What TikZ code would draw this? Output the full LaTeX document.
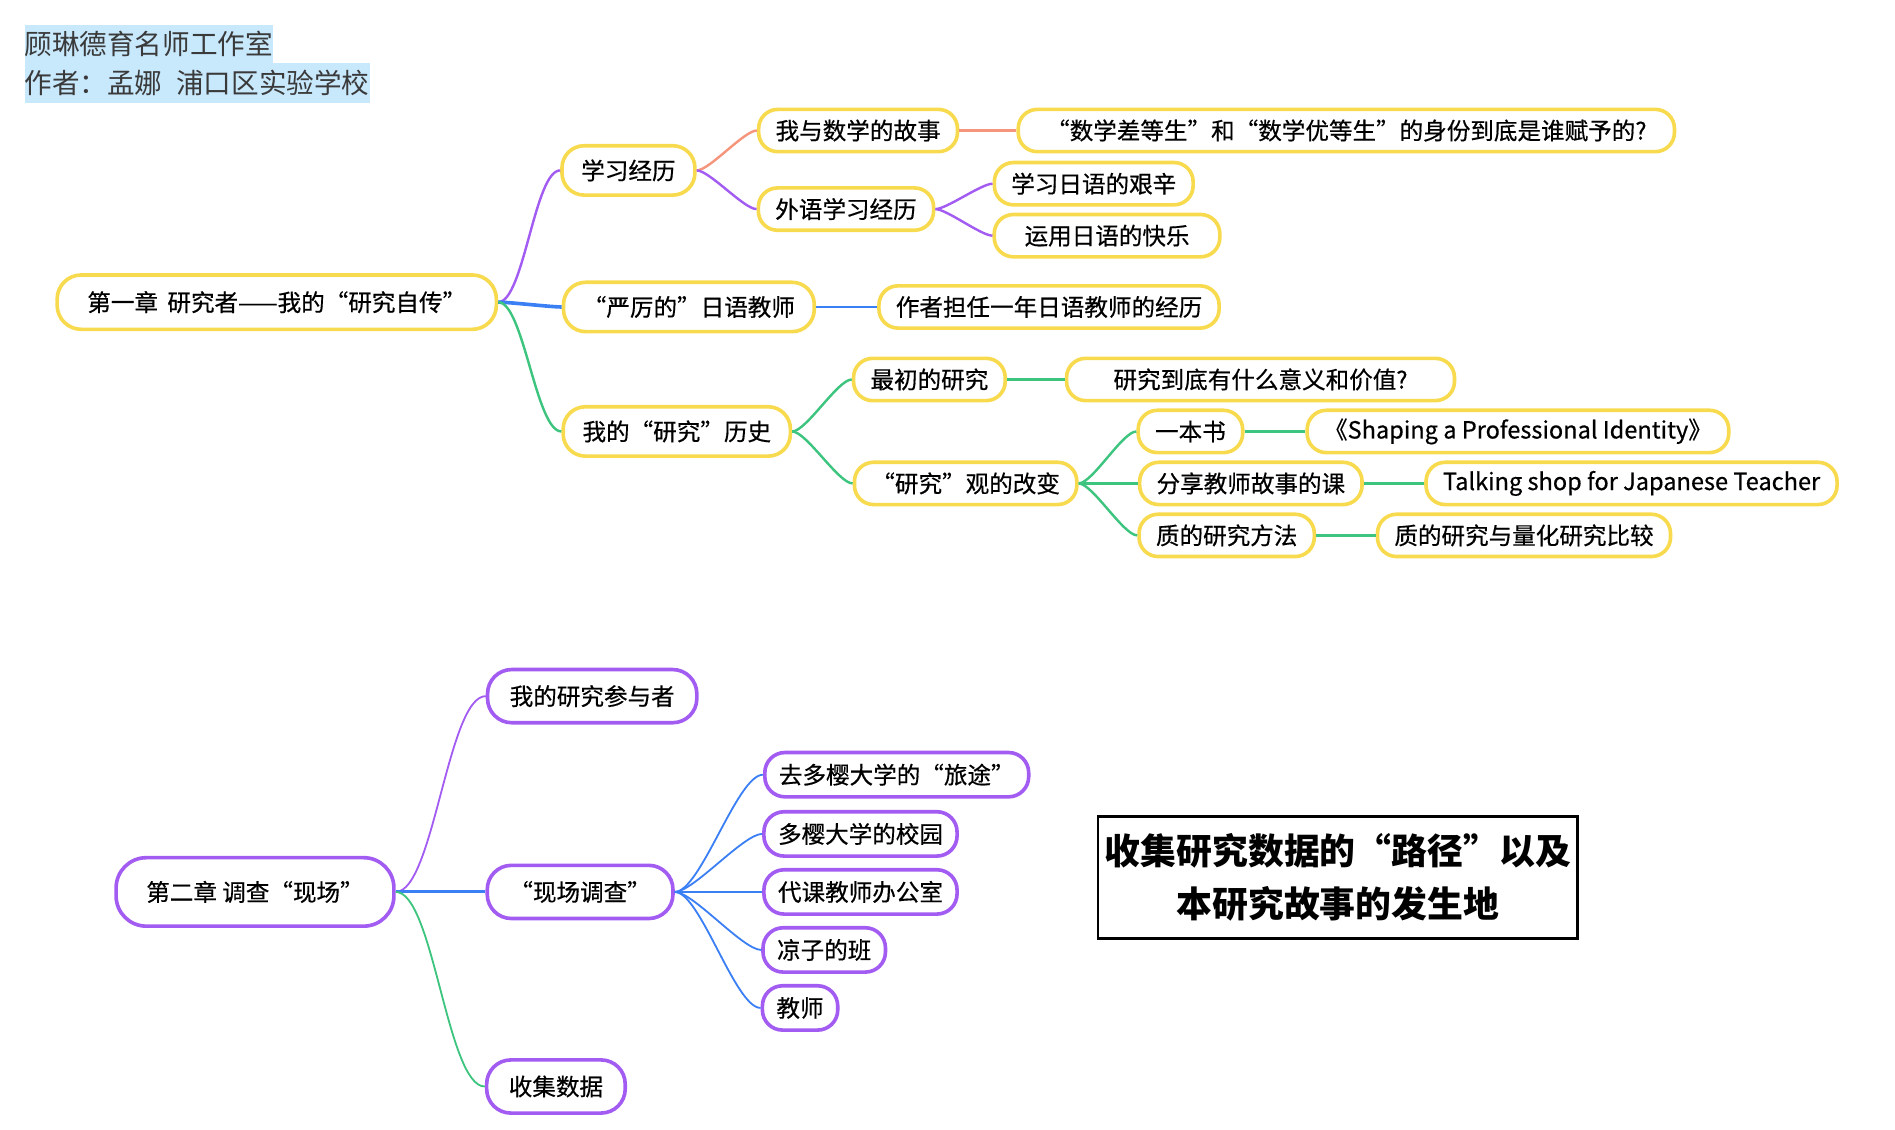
\documentclass[tikz,border=0pt]{standalone}
\usepackage{fontspec}
\setmainfont{Noto Sans CJK SC}
\newfontfamily\medfont[FakeBold=0.5]{Noto Sans CJK SC}
\usetikzlibrary{positioning}
\definecolor{myyellow}{HTML}{F8DA4E}
\definecolor{mypurple}{HTML}{A35CF2}
\definecolor{myblue}{HTML}{3B7FF5}
\definecolor{mygreen}{HTML}{3DC47E}
\definecolor{mysalmon}{HTML}{F5957C}
\definecolor{hlblue}{HTML}{C8E8FC}
\definecolor{headgray}{HTML}{3A3A3A}
\newcommand{\mmfont}{\medfont\fontsize{11.7pt}{14pt}\selectfont}
\tikzstyle{hl} = [rectangle, fill=hlblue, inner xsep=0pt, inner ysep=0pt, minimum height=19.5pt, text=headgray, font=\fontsize{13.7pt}{16pt}\selectfont, anchor=north west]
\tikzstyle{rootY} = [rectangle, rounded corners=12pt, draw=myyellow, line width=1.8pt, fill=white, minimum height=27pt, inner xsep=15pt, font=\mmfont]
\tikzstyle{midY} = [rectangle, rounded corners=11pt, draw=myyellow, line width=1.8pt, fill=white, minimum height=24.5pt, inner xsep=9.6pt, font=\mmfont]
\tikzstyle{leafY} = [rectangle, rounded corners=9.5pt, draw=myyellow, line width=1.8pt, fill=white, minimum height=21pt, inner xsep=8.4pt, font=\mmfont]
\tikzstyle{rootP} = [rectangle, rounded corners=15pt, draw=mypurple, line width=1.8pt, fill=white, minimum height=34pt, inner xsep=15pt, font=\mmfont]
\tikzstyle{midP} = [rectangle, rounded corners=12pt, draw=mypurple, line width=1.8pt, fill=white, minimum height=26.4pt, inner xsep=11pt, font=\mmfont]
\tikzstyle{leafP} = [rectangle, rounded corners=10pt, draw=mypurple, line width=1.8pt, fill=white, minimum height=22pt, inner xsep=7pt, font=\mmfont]
\tikzstyle{notebox} = [rectangle, draw=black, line width=1.2pt, minimum width=236pt, minimum height=60.6pt, align=center, font=\bfseries\fontsize{17.8pt}{26.4pt}\selectfont]
\tikzstyle{link} = [out=0, in=180, looseness=0.45, line width=1.2pt]
\tikzstyle{thinlink} = [out=0, in=180, looseness=0.45, line width=0.9pt]

\begin{document}
\begin{tikzpicture}[x=0.6pt, y=-0.6pt]
  \useasboundingbox (0,0) rectangle (1568,935);

  % 标题
  \node (title) [hl] at (20,20) {顾琳德育名师工作室};
  \node (author) [hl] at (20,52) {作者：孟娜\enspace 浦口区实验学校};

  % 第一章
  \node (root1) [rootY] at (229,250) {第一章\hspace{0.4em}研究者——我的“研究自传”};
  \node (pro1) [midY] at (520,141) {学习经历};
  \node (pro11) [leafY] at (710,108) {我与数学的故事};
  \node (pro111) [leafY, minimum width=325.8pt] at (1114,108) {“数学差等生”和“数学优等生”的身份到底是谁赋予的?};
  \node (pro12) [leafY] at (700,173) {外语学习经历};
  \node (pro121) [leafY] at (905,152) {学习日语的艰辛};
  \node (pro122) [leafY, minimum width=112pt] at (916,195) {运用日语的快乐};

  \node (pro2) [midY] at (570,254) {“严厉的”日语教师};
  \node (pro21) [leafY] at (868,254) {作者担任一年日语教师的经历};

  \node (pro3) [midY] at (560,357) {我的“研究”历史};
  \node (pro31) [leafY] at (769,314) {最初的研究};
  \node (pro311) [leafY, minimum width=192.6pt] at (1043,314) {研究到底有什么意义和价值?};
  \node (pro32) [leafY] at (799,400) {“研究”观的改变};
  \node (pro321) [leafY] at (985,357) {一本书};
  \node (pro3211) [leafY] at (1256,357) {《Shaping a Professional Identity》};
  \node (pro322) [leafY] at (1035,400) {分享教师故事的课};
  \node (pro3221) [leafY] at (1350,400) {Talking shop for Japanese Teacher};
  \node (pro323) [leafY] at (1015,443) {质的研究方法};
  \node (pro3231) [leafY] at (1261,443) {质的研究与量化研究比较};

  % 第二章
  \node (root2) [rootP] at (211,738) {第二章 调查“现场”};
  \node (fld1) [midP] at (490,576) {我的研究参与者};
  \node (fld2) [midP] at (480,738) {“现场调查”};
  \node (fld3) [midP] at (460,899) {收集数据};
  \node (fld21) [leafP] at (742,641) {去多樱大学的“旅途”};
  \node (fld22) [leafP] at (712,690) {多樱大学的校园};
  \node (fld23) [leafP] at (712,738) {代课教师办公室};
  \node (fld24) [leafP] at (682,786) {凉子的班};
  \node (fld25) [leafP] at (662,834) {教师};

  \node (note) [notebox] at (1107,726) {收集研究数据的“路径”以及\\本研究故事的发生地};

  % 连线
  \draw [link, mypurple] (root1.east) to (pro1.west);
  \draw [link, mysalmon] (pro1.east) to (pro11.west);
  \draw [link, mysalmon] (pro11.east) to (pro111.west);
  \draw [link, mypurple] (pro1.east) to (pro12.west);
  \draw [link, mypurple] (pro12.east) to (pro121.west);
  \draw [link, mypurple] (pro12.east) to (pro122.west);

  \draw [link, myblue, line width=1.8pt] (root1.east) to (pro2.west);
  \draw [link, myblue] (pro2.east) to (pro21.west);

  \draw [link, mygreen] (root1.east) to (pro3.west);
  \draw [link, mygreen] (pro3.east) to (pro31.west);
  \draw [link, mygreen] (pro31.east) to (pro311.west);
  \draw [link, mygreen] (pro3.east) to (pro32.west);
  \draw [link, mygreen] (pro32.east) to (pro321.west);
  \draw [link, mygreen] (pro32.east) to (pro322.west);
  \draw [link, mygreen] (pro32.east) to (pro323.west);
  \draw [link, mygreen] (pro321.east) to (pro3211.west);
  \draw [link, mygreen] (pro322.east) to (pro3221.west);
  \draw [link, mygreen] (pro323.east) to (pro3231.west);

  \draw [thinlink, mypurple] (root2.east) to (fld1.west);
  \draw [link, myblue, line width=1.5pt] (root2.east) to (fld2.west);
  \draw [thinlink, mygreen] (root2.east) to (fld3.west);
  \draw [thinlink, myblue] (fld2.east) to (fld21.west);
  \draw [thinlink, myblue] (fld2.east) to (fld22.west);
  \draw [thinlink, myblue] (fld2.east) to (fld23.west);
  \draw [thinlink, myblue] (fld2.east) to (fld24.west);
  \draw [thinlink, myblue] (fld2.east) to (fld25.west);
\end{tikzpicture}
\end{document}
